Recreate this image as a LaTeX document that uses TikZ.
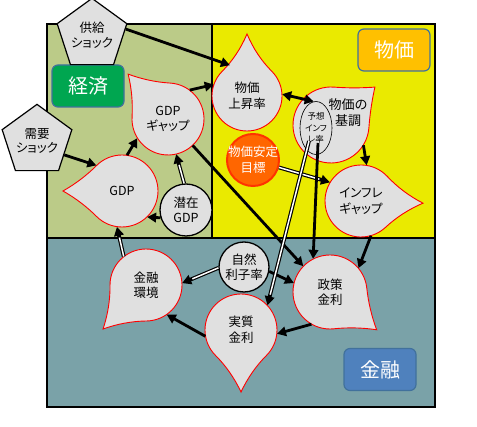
\documentclass[tikz,border=0pt]{standalone}
\usepackage{fontspec}
\setmainfont{Noto Sans CJK JP}[RawFeature=+palt]
\usetikzlibrary{arrows.meta,shapes.geometric}
\definecolor{ecogreen}{RGB}{187,203,136}
\definecolor{priceyellow}{RGB}{234,234,0}
\definecolor{finteal}{RGB}{122,162,168}
\definecolor{dropgray}{RGB}{224,224,224}
\definecolor{lblgreen}{RGB}{0,166,80}
\definecolor{lblorange}{RGB}{255,192,0}
\definecolor{lblblue}{RGB}{79,129,189}
\definecolor{lblborder}{RGB}{65,113,156}
\definecolor{tgtorange}{RGB}{255,102,0}
\definecolor{tgtred}{RGB}{255,51,0}
\newcommand{\tdrop}[5]{%
  \pgfmathsetmacro\tdT{#5/sqrt(2)}%
  \pgfmathsetmacro\tdR{#3}%
  \begin{scope}[shift={(#1,#2)}, rotate=#4-45]
    \path[dropshape] (\tdR,0)
      .. controls ({\tdR},{\tdT/3}) and ({(\tdT+2*\tdR)/3},{2*\tdT/3}) .. ({\tdT},{\tdT})
      .. controls ({2*\tdT/3},{(\tdT+2*\tdR)/3}) and ({\tdT/3},{\tdR}) .. (0,{\tdR})
      arc[start angle=90, end angle=360, radius=\tdR pt] -- cycle;
  \end{scope}}
\tikzset{
  panel/.style={draw=black, line width=1.5pt},
  dropshape/.style={fill=dropgray, draw=red, line width=0.9pt},
  droptext/.style={circle, inner sep=0pt, align=center, font=\fontsize{12.5}{15.5}\selectfont},
  lbl/.style={rounded corners=6pt, draw=lblborder, line width=1.2pt, minimum width=72pt, minimum height=42pt, text=white, font=\fontsize{20}{22}\selectfont},
  shock/.style={regular polygon, regular polygon sides=5, draw=black, line width=1.2pt, fill=dropgray, inner sep=0pt, align=center, font=\fontsize{12.5}{14.5}\selectfont},
  rnd/.style={circle, draw=black, line width=1.3pt, fill=dropgray, inner sep=0pt, align=center, font=\fontsize{12.5}{15.5}\selectfont},
  arr/.style={line width=2.8pt, -{Triangle[length=9pt,width=9.5pt]}},
  dbl/.style={line width=3.8pt, -{Triangle[length=9pt,width=9.5pt]},
    postaction={draw=white, line width=1.5pt, arrows=-, shorten >=11pt}},
}
\begin{document}
\begin{tikzpicture}[x=1pt,y=1pt]
\fill[white] (0,0) rectangle (477,-427);
\useasboundingbox (0,0) rectangle (477,-427);
% panels
\fill[ecogreen] (47,-24) rectangle (212,-238);
\fill[priceyellow] (212,-24) rectangle (435,-238);
\fill[finteal] (47,-238) rectangle (435,-407);
\draw[panel] (47,-24) rectangle (435,-407);
\draw[panel] (212,-24) -- (212,-238);
\draw[panel] (47,-238) -- (435,-238);
% labels
\node[lbl, fill=lblgreen] (lecon) at (88,-86) {経済};
\node[lbl, fill=lblorange] (lprice) at (394,-50) {物価};
\node[lbl, fill=lblblue] (lfin) at (380,-369.5) {金融};
% drops
\tdrop{247}{-96}{35}{90}{62}
\tdrop{168}{-119}{36}{131.6}{60}
\tdrop{122}{-191}{36}{180}{59}
\tdrop{331}{-125}{38}{40.8}{58}
\tdrop{361}{-201}{36}{-2}{62}
\tdrop{146}{-285}{36}{225.7}{61.5}
\tdrop{241}{-330}{36}{270}{62}
\tdrop{330}{-292}{37}{-39}{60}
\node[droptext, minimum size=70pt] (kak) at (247,-96) {物価\\上昇率};
\node[droptext, minimum size=72pt] (gap) at (168,-119) {GDP\\ギャップ};
\node[droptext, minimum size=72pt] (gdp) at (122,-191) {GDP};
\node[droptext, minimum size=76pt] (bas) at (331,-125) {};
\node[align=center, font=\fontsize{13}{16}\selectfont] (basl) at (348,-113) {物価の\\基調};
\node[draw=black, line width=0.6pt, ellipse, minimum width=32pt, minimum height=53pt, inner sep=0pt, align=center, font=\fontsize{8.5}{11.5}\selectfont] (exp) at (316,-128) {\makebox[0pt]{予想}\\\makebox[0pt]{インフ}\\\makebox[0pt]{レ率}};
\node[droptext, minimum size=72pt] (inf) at (361,-201) {インフレ\\ギャップ};
\node[droptext, minimum size=72pt] (fin) at (146,-285) {金融\\環境};
\node[droptext, minimum size=72pt] (real) at (241,-330) {実質\\金利};
\node[droptext, minimum size=74pt] (pol) at (330,-292) {政策\\金利};
% circles
\node[rnd, fill=tgtorange, draw=tgtred, line width=2pt, text=white, minimum size=52pt] (tgt) at (253,-160) {\makebox[0pt]{物価安定}\\\makebox[0pt]{目標}};
\node[rnd, minimum size=52pt] (pot) at (186,-210) {潜在\\GDP};
\node[rnd, minimum size=50pt] (nat) at (244,-267) {\makebox[0pt]{自然}\\\makebox[0pt]{利子率}};
% shocks
\node[shock, minimum size=64pt] (sup) at (92,-35) {供給\\ショック};
\node[shock, minimum size=66pt] (dem) at (37,-141) {需要\\ショック};
% connectors
\coordinate (exps1) at (318,-143);
\coordinate (exps2) at (309,-141);
\draw[arr] (sup.10) -- (kak.119);
\draw[arr] (gap.53) -- (kak.161);
\draw[arr] (dem.-27) -- (gdp.135);
\draw[arr] (gdp.82) -- (gap.212);
\draw[dbl] (pot.94) -- (gap.-77);
\draw[arr] (pot.197) -- (gdp.-46);
\draw[dbl] (fin.128) -- (gdp.-98);
\draw[dbl] (nat.182) -- (fin.3);
\draw[arr] (real.190) -- (fin.-55);
\draw[arr] (nat.-10) -- (pol.166);
\draw[arr] (pol.240) -- (real.-6);
\draw[arr] (gap.-47) -- (pol.136);
\draw[dbl] (tgt.-16) -- (inf.149);
\draw[arr] (exps1) -- (pol.117);
\draw[dbl] (exps2) -- (real.43);
\draw[line width=2.8pt, {Triangle[length=9pt,width=9.5pt]}-{Triangle[length=9pt,width=9.5pt]}] (kak.3) -- (exp.95);
\draw[arr] (bas.-32) -- (inf.81);
\draw[arr] (inf.-74) -- (pol.40);
\end{tikzpicture}
\end{document}
